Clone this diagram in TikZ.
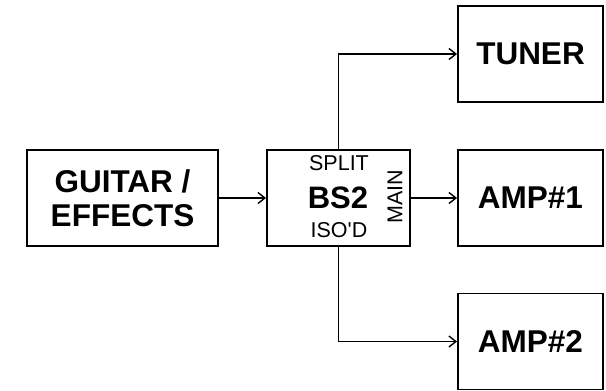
\documentclass[tikz,border=0pt]{standalone}
\usepackage{fontspec}
\defaultfontfeatures[\rmfamily]{}
\setmainfont{Liberation Sans}
\usetikzlibrary{arrows.meta,positioning}
\tikzset{
  unitbox/.style={draw=black, line width=1.9bp, minimum width=145bp, minimum height=96bp, inner sep=0pt, align=center, font=\fontsize{31.5bp}{34bp}\selectfont\bfseries},
  portlabel/.style={inner sep=0pt, font=\fontsize{21.5bp}{23bp}\selectfont},
  sigarrow/.style={-{Straight Barb[length=7bp,width=11bp]}, line width=1.4bp},
}
\begin{document}
\begin{tikzpicture}[x=1bp, y=-1bp]
    \useasboundingbox (0,0) rectangle (606,390);
    \node[unitbox, minimum width=191bp] (guitar) at (122.5,198) {GUITAR /\\EFFECTS};
    \node[unitbox, minimum width=143bp] (bs2) at (338.5,198) {};
    \node[unitbox] (tuner) at (530.5,54) {TUNER};
    \node[unitbox] (amp1) at (530.5,198) {AMP\#1};
    \node[unitbox] (amp2) at (530.5,341.5) {AMP\#2};
    % labels inside the splitter box
    \node[portlabel] (split) at (339,163) {SPLIT};
    \node[portlabel, font=\fontsize{31bp}{32bp}\selectfont\bfseries] (bstitle) at (338,198) {BS2};
    \node[portlabel] (isod) at (339,230) {ISO'D};
    \node[portlabel, rotate=90] (main) at (395,197) {MAIN};
    \draw[sigarrow] (guitar) -- (bs2);
    \draw[sigarrow] (bs2) -- (amp1);
    \draw[sigarrow] (bs2.north) |- (tuner.west);
    \draw[sigarrow] (bs2.south) |- (amp2.west);
\end{tikzpicture}
\end{document}
